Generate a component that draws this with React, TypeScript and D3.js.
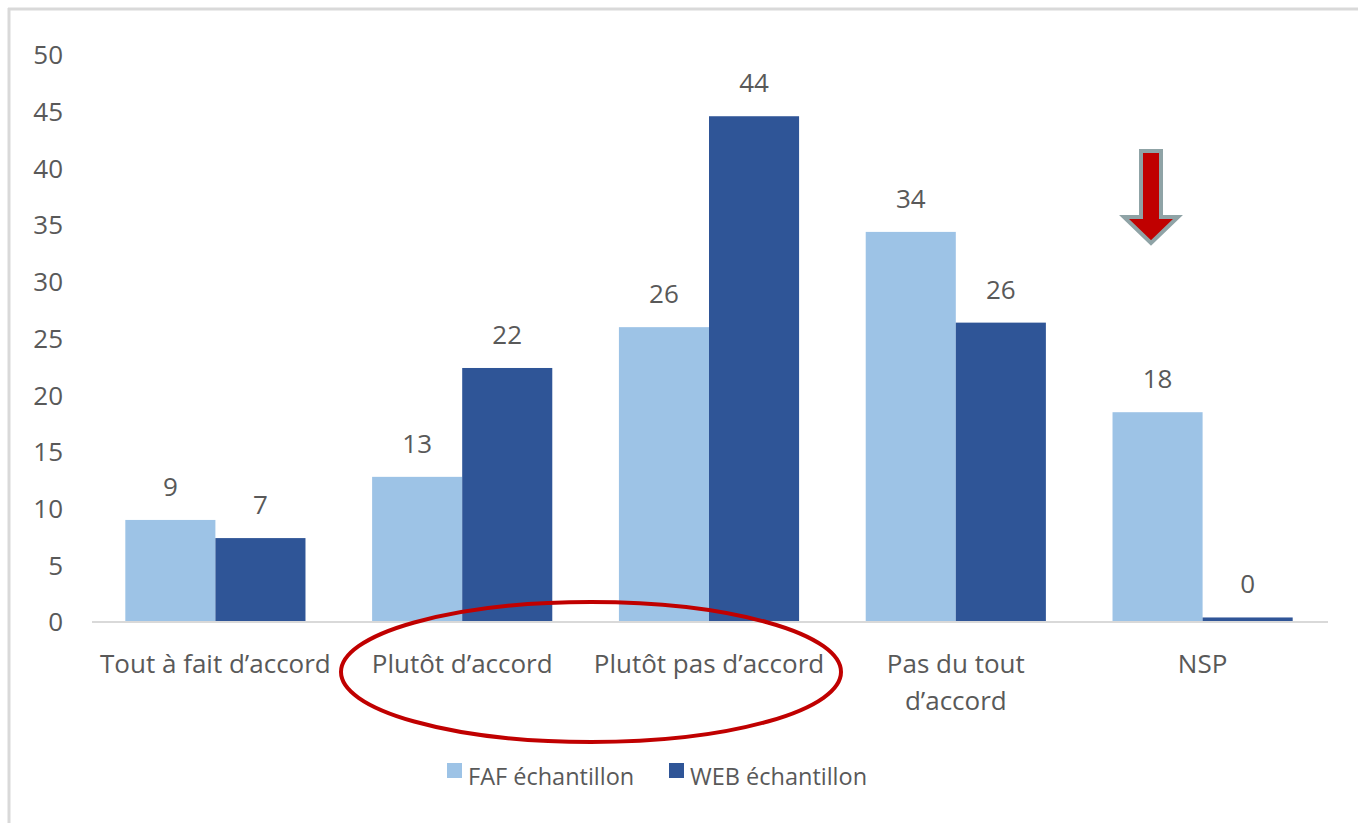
import { useEffect, useRef } from 'react';
import * as d3 from 'd3';

const categories = [
  ['Tout à fait d’accord'],
  ['Plutôt d’accord'],
  ['Plutôt pas d’accord'],
  ['Pas du tout', 'd’accord'],
  ['NSP'],
];
const seriesNames = ['FAF échantillon', 'WEB échantillon'];
const fafValues = [9, 12.8, 26, 34.4, 18.5];
const webValues = [7.4, 22.4, 44.6, 26.4, 0.4];
const fafLabels = ['9', '13', '26', '34', '18'];
const webLabels = ['7', '22', '44', '26', '0'];
const yTicks = [0, 5, 10, 15, 20, 25, 30, 35, 40, 45, 50];

const colors = ['#9DC3E6', '#2F5597'];
const textColor = '#595959';
const font = '"Open Sans", "Liberation Sans", sans-serif';

function App() {
  const svgRef = useRef<SVGSVGElement>(null);

  useEffect(() => {
    if (!svgRef.current) return;
    const svg = d3.select(svgRef.current);
    svg.selectAll('*').remove();

    const width = 1358;
    const height = 823;
    const left = 92;
    const right = 1326;
    const top = 55;
    const bottom = 622;

    svg.attr('viewBox', `0 0 ${width} ${height}`);

    // frame (only top and left edges visible)
    svg.append('line').attr('x1', 8).attr('x2', width).attr('y1', 9).attr('y2', 9)
      .attr('stroke', '#D9D9D9').attr('stroke-width', 3);
    svg.append('line').attr('x1', 9).attr('x2', 9).attr('y1', 8).attr('y2', height)
      .attr('stroke', '#D9D9D9').attr('stroke-width', 3);

    const x = d3.scaleBand<number>()
      .domain(d3.range(categories.length))
      .range([left, right])
      .paddingInner(0.27)
      .paddingOuter(0.135);
    const sub = d3.scaleBand<number>()
      .domain([0, 1])
      .range([0, x.bandwidth()]);
    const y = d3.scaleLinear().domain([0, 50]).range([bottom, top]);

    // y tick labels
    svg.append('g')
      .selectAll('text')
      .data(yTicks)
      .enter()
      .append('text')
      .attr('x', 63)
      .attr('y', d => y(d))
      .attr('dy', '0.36em')
      .attr('text-anchor', 'end')
      .attr('fill', textColor)
      .attr('font-family', font)
      .attr('font-size', 26)
      .text(d => d);

    const series = [
      { values: fafValues, labels: fafLabels },
      { values: webValues, labels: webLabels },
    ];

    series.forEach((s, si) => {
      const g = svg.append('g');
      g.selectAll('rect')
        .data(s.values)
        .enter()
        .append('rect')
        .attr('x', (_, i) => (x(i) as number) + (sub(si) as number))
        .attr('y', d => y(d))
        .attr('width', sub.bandwidth())
        .attr('height', d => bottom - y(d))
        .attr('fill', colors[si]);

      g.selectAll('text')
        .data(s.values)
        .enter()
        .append('text')
        .attr('x', (_, i) => (x(i) as number) + (sub(si) as number) + sub.bandwidth() / 2)
        .attr('y', d => y(d) - 24)
        .attr('text-anchor', 'middle')
        .attr('fill', textColor)
        .attr('font-family', font)
        .attr('font-size', 26)
        .text((_, i) => s.labels[i]);
    });

    // baseline
    svg.append('line')
      .attr('x1', left).attr('x2', right + 2)
      .attr('y1', bottom).attr('y2', bottom)
      .attr('stroke', '#D9D9D9').attr('stroke-width', 2);

    // category labels
    const cat = svg.append('g')
      .selectAll('text')
      .data(categories)
      .enter()
      .append('text')
      .attr('text-anchor', 'middle')
      .attr('fill', textColor)
      .attr('font-family', font)
      .attr('font-size', 26);
    cat.each(function (lines, i) {
      const t = d3.select(this);
      lines.forEach((line, li) => {
        t.append('tspan')
          .attr('x', (x(i) as number) + x.bandwidth() / 2)
          .attr('y', 673 + li * 37)
          .text(line);
      });
    });

    // legend
    const legendX = [447, 669];
    seriesNames.forEach((name, i) => {
      svg.append('rect')
        .attr('x', legendX[i]).attr('y', 763)
        .attr('width', 15).attr('height', 15)
        .attr('fill', colors[i]);
      svg.append('text')
        .attr('x', legendX[i] + 21).attr('y', 785)
        .attr('fill', textColor)
        .attr('font-family', font)
        .attr('font-size', 23.5)
        .text(name);
    });

    // annotations: red ellipse around the two middle categories
    svg.append('ellipse')
      .attr('cx', 591).attr('cy', 672)
      .attr('rx', 250).attr('ry', 70)
      .attr('fill', 'none')
      .attr('stroke', '#C00000')
      .attr('stroke-width', 4);

    // red arrow above NSP
    const ax = 1151;
    const arrow = d3.path();
    arrow.moveTo(ax - 10, 151);
    arrow.lineTo(ax + 10, 151);
    arrow.lineTo(ax + 10, 217);
    arrow.lineTo(ax + 27, 217);
    arrow.lineTo(ax, 243);
    arrow.lineTo(ax - 27, 217);
    arrow.lineTo(ax - 10, 217);
    arrow.closePath();
    svg.append('path')
      .attr('d', arrow.toString())
      .attr('fill', '#C00000')
      .attr('stroke', '#8FA3A6')
      .attr('stroke-width', 4)
      .attr('stroke-linejoin', 'miter');
  }, []);

  return (
    <svg
      ref={svgRef}
      width={1358}
      height={823}
      style={{ position: 'absolute', left: 0, top: 0, background: '#fff' }}
    />
  );
}

export default App;
